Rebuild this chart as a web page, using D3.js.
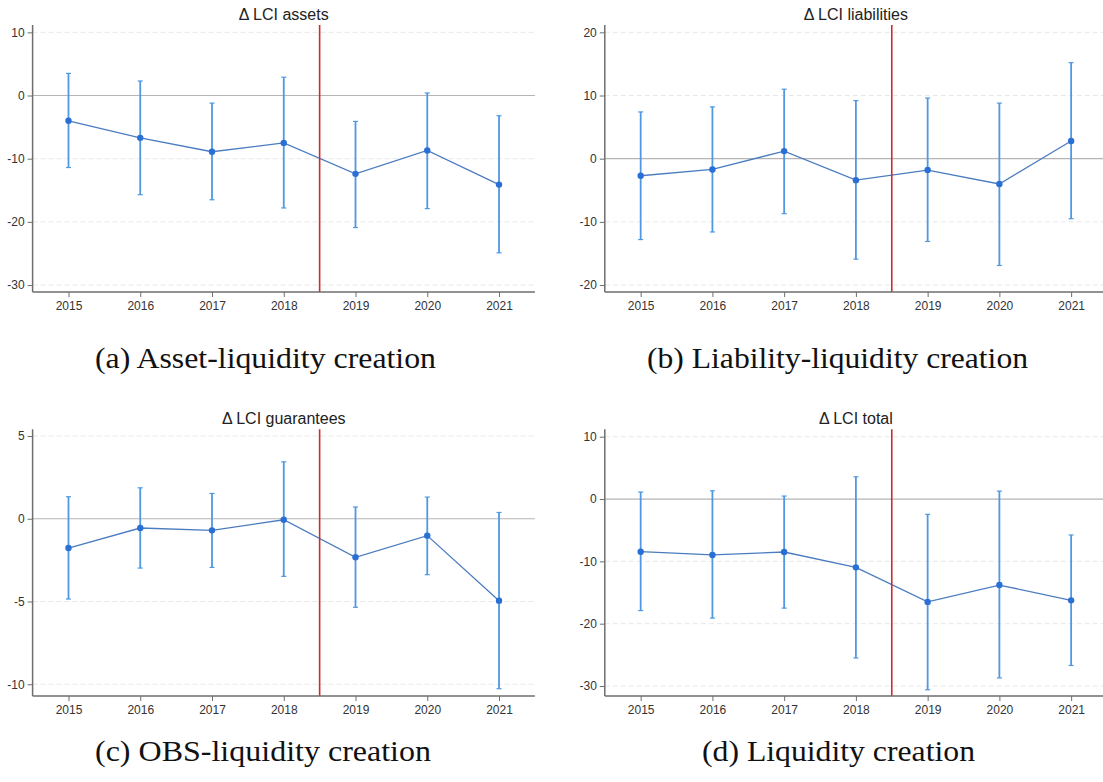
<!DOCTYPE html>
<html>
<head>
<meta charset="utf-8">
<script src="https://cdn.jsdelivr.net/npm/d3@7"></script>
<style>
  body { margin: 0; background: #fff; }
  svg { display: block; }
</style>
</head>
<body>
<svg id="chart" width="1103" height="782"></svg>
<script>
// Event-study estimates with 95% confidence intervals, by year
const years = [2015, 2016, 2017, 2018, 2019, 2020, 2021];

const assetsEst = [-4.0, -6.7, -8.9, -7.5, -12.4, -8.7, -14.1];
const assetsLo  = [-11.4, -15.7, -16.5, -17.8, -20.9, -17.9, -24.9];
const assetsHi  = [3.5, 2.3, -1.2, 2.9, -4.1, 0.4, -3.2];

const liabEst = [-2.7, -1.7, 1.2, -3.4, -1.8, -4.0, 2.8];
const liabLo  = [-12.8, -11.6, -8.7, -15.9, -13.1, -16.9, -9.5];
const liabHi  = [7.4, 8.2, 11.0, 9.2, 9.6, 8.8, 15.2];

const guarEst = [-1.77, -0.56, -0.70, -0.06, -2.33, -1.02, -4.95];
const guarLo  = [-4.85, -2.98, -2.94, -3.48, -5.35, -3.38, -10.27];
const guarHi  = [1.33, 1.87, 1.53, 3.44, 0.71, 1.31, 0.38];

const totalEst = [-8.45, -8.97, -8.5, -10.96, -16.5, -13.8, -16.25];
const totalLo  = [-17.9, -19.1, -17.5, -25.5, -30.6, -28.7, -26.7];
const totalHi  = [1.12, 1.33, 0.48, 3.57, -2.46, 1.28, -5.77];

// y-axis tick values per panel
const assetsTicks = [10, 0, -10, -20, -30];
const liabTicks   = [20, 10, 0, -10, -20];
const guarTicks   = [5, 0, -5, -10];
const totalTicks  = [10, 0, -10, -20, -30];

// treatment break between 2018 and 2019
const breakYear = 2018.5;

const titles   = ["\u0394 LCI assets", "\u0394 LCI liabilities", "\u0394 LCI guarantees", "\u0394 LCI total"];
const captions = ["(a) Asset-liquidity creation", "(b) Liability-liquidity creation",
                  "(c) OBS-liquidity creation", "(d) Liquidity creation"];

const panels = [
  { title: titles[0], caption: captions[0], est: assetsEst, lo: assetsLo, hi: assetsHi, ticks: assetsTicks,
    yDomain: [-31.1, 11.16], x0: 32.6, x1: 534.9, y0: 25, y1: 292, capX: 95, capW: 341, capY: 368 },
  { title: titles[1], caption: captions[1], est: liabEst, lo: liabLo, hi: liabHi, ticks: liabTicks,
    yDomain: [-21.1, 21.16], x0: 604.8, x1: 1107, y0: 25, y1: 292, capX: 647, capW: 381, capY: 368 },
  { title: titles[2], caption: captions[2], est: guarEst, lo: guarLo, hi: guarHi, ticks: guarTicks,
    yDomain: [-10.71, 5.405], x0: 32.6, x1: 534.9, y0: 429.3, y1: 696, capX: 95, capW: 336, capY: 761 },
  { title: titles[3], caption: captions[3], est: totalEst, lo: totalLo, hi: totalHi, ticks: totalTicks,
    yDomain: [-31.6, 11.19], x0: 604.8, x1: 1107, y0: 429.3, y1: 696, capX: 702, capW: 273, capY: 761 }
];

const svg = d3.select("#chart");
svg.append("rect").attr("width", 1103).attr("height", 782).attr("fill", "#fff");

const axisColor = "#6e6e6e";
const textColor = "#333";
const ciColor = "#4f98e2";
const dotColor = "#2a6fd6";
const lineColor = "#4b7cc0";
const plainNum = d => String(d);   // ASCII hyphen for negatives

panels.forEach(p => {
  const x = d3.scaleLinear().domain([2014.5, 2021.5]).range([p.x0, p.x1]);
  const y = d3.scaleLinear().domain(p.yDomain).range([p.y1, p.y0]);
  const g = svg.append("g");

  // dashed grid at non-zero ticks
  g.selectAll("line.grid").data(p.ticks.filter(t => t !== 0)).join("line")
    .attr("x1", p.x0).attr("x2", p.x1)
    .attr("y1", d => y(d)).attr("y2", d => y(d))
    .attr("stroke", "#e8e8e8").attr("stroke-width", 1)
    .attr("stroke-dasharray", "5,3");

  // zero reference line
  g.append("line")
    .attr("x1", p.x0).attr("x2", p.x1)
    .attr("y1", y(0)).attr("y2", y(0))
    .attr("stroke", "#b5b5b5").attr("stroke-width", 1.2);

  // confidence intervals
  const rows = years.map((yr, i) => ({ yr, est: p.est[i], lo: p.lo[i], hi: p.hi[i] }));
  g.selectAll("line.ci").data(rows).join("line")
    .attr("x1", d => x(d.yr)).attr("x2", d => x(d.yr))
    .attr("y1", d => y(d.lo)).attr("y2", d => y(d.hi))
    .attr("stroke", ciColor).attr("stroke-width", 1.8);
  ["lo", "hi"].forEach(k => {
    g.selectAll("line.cap-" + k).data(rows).join("line")
      .attr("x1", d => x(d.yr) - 2.5).attr("x2", d => x(d.yr) + 2.5)
      .attr("y1", d => y(d[k])).attr("y2", d => y(d[k]))
      .attr("stroke", ciColor).attr("stroke-width", 1.2);
  });

  // connecting line of point estimates
  g.append("path").datum(rows)
    .attr("d", d3.line().x(d => x(d.yr)).y(d => y(d.est)))
    .attr("fill", "none").attr("stroke", lineColor).attr("stroke-width", 1.3);

  g.selectAll("circle").data(rows).join("circle")
    .attr("cx", d => x(d.yr)).attr("cy", d => y(d.est)).attr("r", 3.2)
    .attr("fill", dotColor);

  // policy break
  g.append("line")
    .attr("x1", x(breakYear)).attr("x2", x(breakYear))
    .attr("y1", p.y0).attr("y2", p.y1)
    .attr("stroke", "#d02a2a").attr("stroke-width", 1.6);

  // axes
  const yAxis = d3.axisLeft(y).tickValues(p.ticks).tickSize(5).tickPadding(3).tickFormat(plainNum);
  const xAxis = d3.axisBottom(x).tickValues(years).tickSize(5).tickPadding(4).tickFormat(plainNum);

  const ya = g.append("g").attr("transform", `translate(${p.x0},0)`).call(yAxis);
  const xa = g.append("g").attr("transform", `translate(0,${p.y1})`).call(xAxis);
  [ya, xa].forEach(a => {
    a.select(".domain").attr("stroke", axisColor).attr("stroke-width", 1.5);
    a.selectAll(".tick line").attr("stroke", axisColor).attr("stroke-width", 1);
    a.selectAll(".tick text").attr("fill", textColor)
      .style("font-family", "'Liberation Sans', Arial, sans-serif").style("font-size", "12px");
  });
  ya.select(".domain").attr("d", `M0,${p.y0}V${p.y1}`);
  xa.select(".domain").attr("d", `M${p.x0},0H${p.x1}`);

  // panel title
  g.append("text")
    .attr("x", (p.x0 + p.x1) / 2).attr("y", p.y0 - 5)
    .attr("text-anchor", "middle")
    .attr("fill", "#222")
    .style("font-family", "'Liberation Sans', Arial, sans-serif").style("font-size", "16px")
    .text(p.title);

  // subfigure caption
  svg.append("text")
    .attr("x", p.capX).attr("y", p.capY)
    .attr("textLength", p.capW).attr("lengthAdjust", "spacingAndGlyphs")
    .attr("fill", "#111")
    .style("font-family", "'Liberation Serif', 'DejaVu Serif', serif").style("font-size", "29px")
    .text(p.caption);
});
</script>
</body>
</html>
